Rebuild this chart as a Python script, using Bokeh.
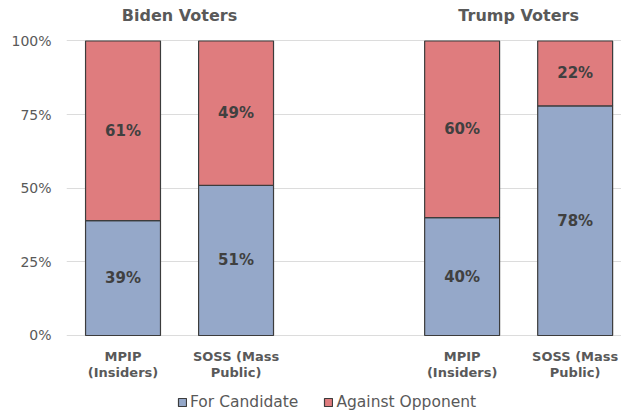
from bokeh.plotting import figure
from bokeh.models import (ColumnDataSource, FixedTicker, NumeralTickFormatter,
                          Legend, LegendItem, Range1d)
from bokeh.embed import file_html
from bokeh.resources import INLINE
from bokeh.core.properties import value

# Survey results: share of each voter group voting for their candidate vs. against the opponent
groups = ["Biden Voters", "Trump Voters"]
samples = ["MPIP (Insiders)", "SOSS (Mass Public)"]
sample_ticks = ["MPIP\n(Insiders)", "SOSS (Mass\nPublic)"]
for_candidate = [39, 51, 40, 78]
against_opponent = [61, 49, 60, 22]
y_ticks = [0, 0.25, 0.5, 0.75, 1.0]

BLUE = "#95A8C9"
RED = "#DF7C7E"
EDGE = "#3c3c3c"
GREY_TEXT = "#595959"
FONT = "DejaVu Sans"

# one empty slot between the two voter groups
xs = [g * (len(samples) + 1) + s for g in range(len(groups)) for s in range(len(samples))]
labels = [sample_ticks[s] for g in range(len(groups)) for s in range(len(samples))]
group_centers = [sum(xs[g * len(samples):(g + 1) * len(samples)]) / len(samples)
                 for g in range(len(groups))]

src = ColumnDataSource(dict(
    x=xs,
    for_c=[v / 100 for v in for_candidate],
    against=[v / 100 for v in against_opponent],
    for_mid=[v / 200 for v in for_candidate],
    against_mid=[(f + a / 2) / 100 for f, a in zip(for_candidate, against_opponent)],
    for_txt=[f"{v}%" for v in for_candidate],
    against_txt=[f"{v}%" for v in against_opponent],
    tick=labels,
))

# The plotting area spans the full height; the 0-100% scale sits in its middle,
# with room above for group headings and below for category names and the key.
p = figure(width=621, height=414, output_backend="svg", toolbar_location=None,
           x_range=Range1d(-0.5, 4.41), y_range=Range1d(-0.2683, 1.1375),
           min_border_left=66, min_border_right=0, min_border_top=0,
           min_border_bottom=0, outline_line_color=None)

r_for, r_against = p.vbar_stack(["for_c", "against"], x="x", width=0.663, source=src,
                                fill_color=[BLUE, RED], line_color=EDGE, line_width=1.2)

for col, txt in (("for_mid", "for_txt"), ("against_mid", "against_txt")):
    p.text(x="x", y=col, text=txt, source=src, text_align="center",
           text_baseline="middle", text_font=value(FONT), text_font_style="bold",
           text_font_size="15px", text_color="#404040")

# category names under each bar
p.text(x="x", y=-0.047, text="tick", source=src, text_align="center",
       text_baseline="top", text_font=value(FONT), text_font_style="bold",
       text_font_size="13px", text_color=GREY_TEXT, text_line_height=1.05)

# group headings
p.text(x=group_centers, y=[1.0866] * len(groups), text=groups, text_align="center",
       text_baseline="middle", text_font=value(FONT), text_font_style="bold",
       text_font_size="16px", text_color=GREY_TEXT)

# axes
p.xaxis.visible = False
p.yaxis.ticker = FixedTicker(ticks=y_ticks)
p.yaxis.formatter = NumeralTickFormatter(format="0%")
p.yaxis.axis_line_color = None
p.yaxis.major_tick_line_color = None
p.yaxis.minor_tick_line_color = None
p.yaxis.major_label_standoff = 9
p.yaxis.major_label_text_font = FONT
p.yaxis.major_label_text_font_size = "14px"
p.yaxis.major_label_text_color = GREY_TEXT

p.xgrid.grid_line_color = None
p.ygrid.ticker = FixedTicker(ticks=y_ticks)
p.ygrid.grid_line_color = "#dcdcdc"
p.ygrid.grid_line_width = 1

legend = Legend(items=[LegendItem(label="For Candidate", renderers=[r_for]),
                       LegendItem(label="Against Opponent", renderers=[r_against])],
                orientation="horizontal", location=(111, 3),
                padding=0, margin=0, spacing=25, label_standoff=3,
                glyph_width=10, glyph_height=10,
                border_line_color=None, background_fill_alpha=0,
                label_text_font=FONT, label_text_font_size="15.5px",
                label_text_color=GREY_TEXT)
p.add_layout(legend)

open("out.html", "w").write(file_html(p, INLINE))
